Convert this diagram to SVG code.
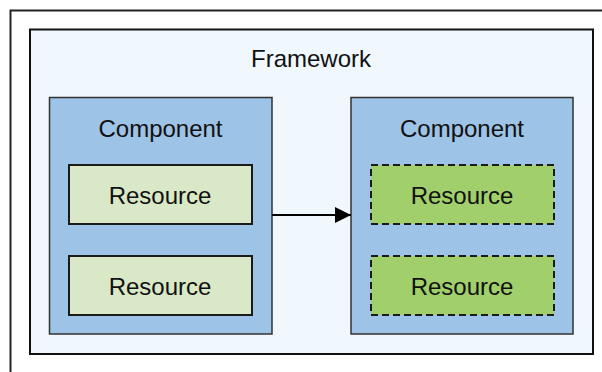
<svg xmlns="http://www.w3.org/2000/svg" width="602" height="372" viewBox="0 0 602 372">
<defs>
<style>
text{font-family:"Liberation Sans",Arial,sans-serif;font-size:24px;fill:#111;text-anchor:middle}
.comp{fill:#9dc3e6;stroke:#333;stroke-width:1.5}
.res{fill:#d9e8c6;stroke:#1a1a1a;stroke-width:2}
.resd{fill:#a0cf6b;stroke:#1a1a1a;stroke-width:2;stroke-dasharray:7 4}
</style>
<marker id="arr" markerWidth="16" markerHeight="16" refX="16" refY="8" orient="auto" markerUnits="userSpaceOnUse">
<path d="M0,0 L16,8 L0,16 Z" fill="#000"/>
</marker>
</defs>
<rect width="602" height="372" fill="#fff"/>
<rect x="10.5" y="10.5" width="620" height="400" fill="none" stroke="#222" stroke-width="2"/>
<g id="framework">
<rect x="30" y="29.5" width="563" height="324.5" fill="#f0f7fd" stroke="#111" stroke-width="2"/>
<text x="311" y="67" font-size="25">Framework</text>
</g>
<g id="component1">
<rect class="comp" x="49.5" y="97.5" width="222.5" height="236.5"/>
<text x="160.5" y="137" font-size="26">Component</text>
</g>
<g id="resource1">
<rect class="res" x="69" y="165" width="183" height="59"/>
<text x="160" y="204">Resource</text>
</g>
<g id="resource2">
<rect class="res" x="69" y="256" width="183" height="59"/>
<text x="160" y="295">Resource</text>
</g>
<g id="component2">
<rect class="comp" x="351" y="97.5" width="222" height="236.5"/>
<text x="462" y="137" font-size="26">Component</text>
</g>
<g id="resource3">
<rect class="resd" x="371" y="165" width="183" height="59"/>
<text x="462" y="204">Resource</text>
</g>
<g id="resource4">
<rect class="resd" x="371" y="256" width="183" height="59"/>
<text x="462" y="295">Resource</text>
</g>
<g id="connectors">
<line x1="272" y1="215" x2="351" y2="215" stroke="#000" stroke-width="2" marker-end="url(#arr)"/>
</g>
</svg>
